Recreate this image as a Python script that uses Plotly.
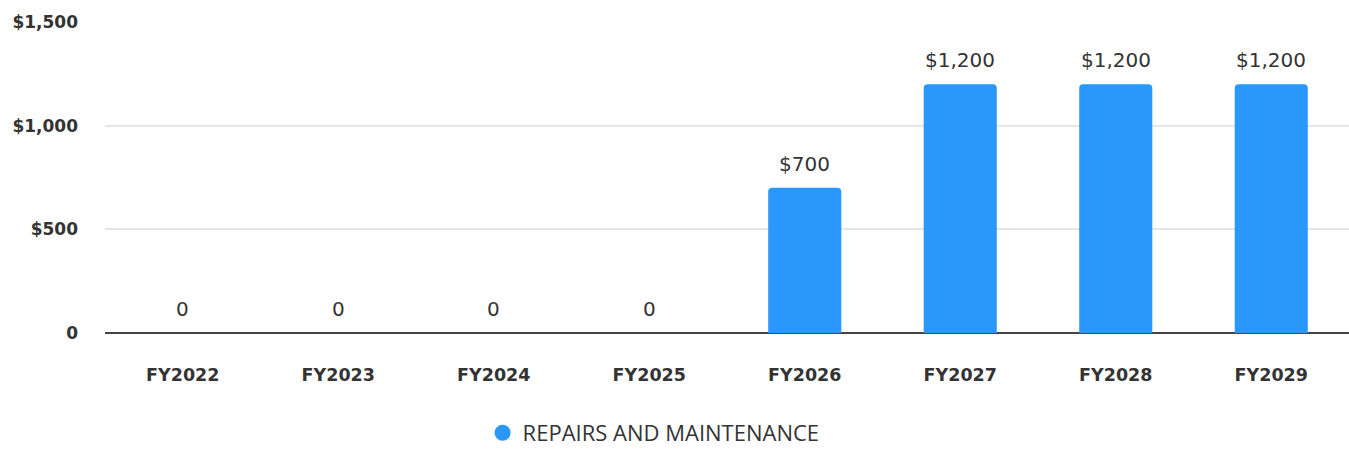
import plotly.graph_objects as go

# Annual repairs and maintenance budget
categories = ["FY2022", "FY2023", "FY2024", "FY2025", "FY2026", "FY2027", "FY2028", "FY2029"]
values = [0, 0, 0, 0, 700, 1200, 1200, 1200]
series_name = "REPAIRS AND MAINTENANCE"
y_tick_vals = [0, 500, 1000, 1500]
y_tick_text = ["0", "$500", "$1,000", "$1,500"]

BAR_COLOR = "#2997fb"
TEXT_COLOR = "#333333"
TICK_FONT = "DejaVu Sans"


def money(v):
    return "0" if v == 0 else f"${v:,.0f}"


fig = go.Figure()
fig.add_trace(go.Bar(
    x=categories,
    y=values,
    marker=dict(color=BAR_COLOR, cornerradius=4, line=dict(width=0)),
    showlegend=False,
    hoverinfo="x+y",
))
# circular legend marker for the series
fig.add_trace(go.Scatter(
    x=[None], y=[None], mode="markers", name=series_name,
    marker=dict(color=BAR_COLOR, size=20, symbol="circle"),
    showlegend=True,
))

# value labels above each bar
for cat, val in zip(categories, values):
    fig.add_annotation(
        x=cat, y=val, text=money(val), showarrow=False,
        yanchor="bottom", yshift=10,
        font=dict(family="DejaVu Sans", size=20, color=TEXT_COLOR),
    )

fig.update_layout(
    width=1349, height=451,
    margin=dict(l=105, r=0, t=22, b=118, autoexpand=False),
    paper_bgcolor="white", plot_bgcolor="white",
    bargap=0.53,
    font=dict(family="Open Sans", color=TEXT_COLOR),
    legend=dict(
        orientation="h", x=0.441, xanchor="center",
        yref="container", y=0.04, yanchor="middle",
        font=dict(family="Open Sans", size=22, color=TEXT_COLOR),
        bgcolor="rgba(0,0,0,0)",
    ),
)
fig.update_xaxes(
    showgrid=False, showline=False, zeroline=False,
    tickfont=dict(family=TICK_FONT, size=17.5, color=TEXT_COLOR, weight="bold"),
    ticklabelstandoff=29,
)
fig.update_yaxes(
    range=[0, 1500],
    tickvals=y_tick_vals, ticktext=y_tick_text,
    tickfont=dict(family=TICK_FONT, size=17, color=TEXT_COLOR, weight="bold"),
    showgrid=True, gridcolor="#e6e6e6", gridwidth=2,
    zeroline=True, zerolinecolor="#444444", zerolinewidth=2,
    ticklabelstandoff=26,
)

fig.write_html("out.html")
